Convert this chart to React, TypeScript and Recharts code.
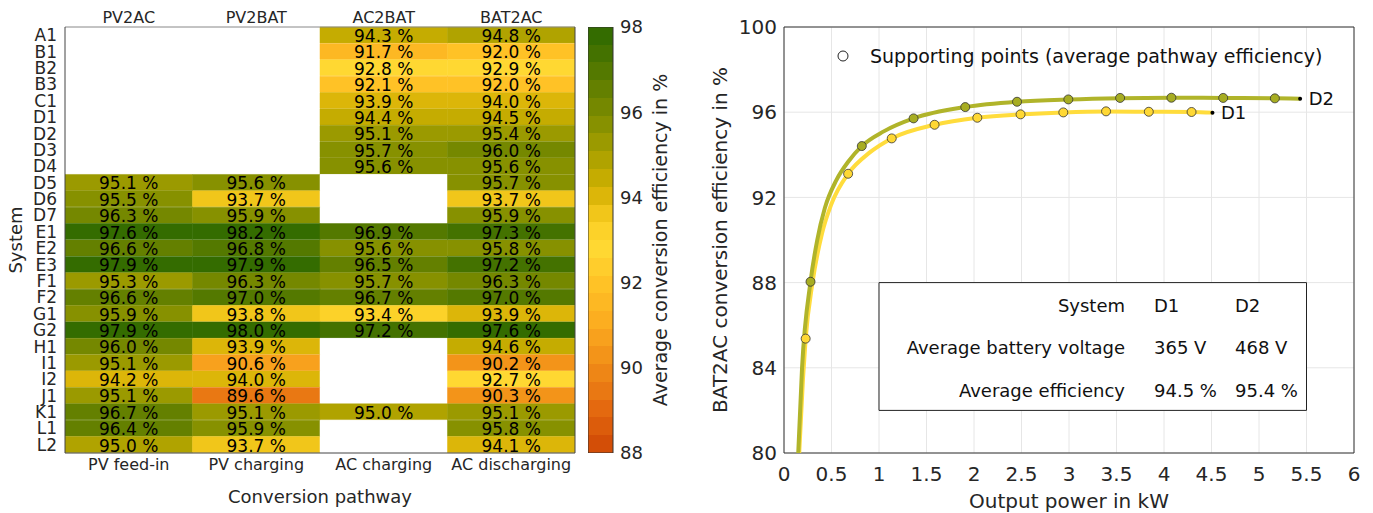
import React from "react"
import {
  BarChart,
  Bar,
  Cell,
  LabelList,
  XAxis,
  YAxis,
  ComposedChart,
  Line,
  Scatter,
  CartesianGrid,
  ReferenceArea,
  Legend,
  Label,
} from "recharts"

const FONT = "'DejaVu Sans', Verdana, sans-serif"
const INK = "#262626"

// ---- heatmap data ----
const systems = ["A1", "B1", "B2", "B3", "C1", "D1", "D2", "D3", "D4", "D5", "D6", "D7", "E1", "E2", "E3", "F1", "F2", "G1", "G2", "H1", "I1", "I2", "J1", "K1", "L1", "L2"]
const pathCodes = ["PV2AC", "PV2BAT", "AC2BAT", "BAT2AC"]
const pathNames = ["PV feed-in", "PV charging", "AC charging", "AC discharging"]
const pv2ac = [null, null, null, null, null, null, null, null, null, 95.1, 95.5, 96.3, 97.6, 96.6, 97.9, 95.3, 96.6, 95.9, 97.9, 96.0, 95.1, 94.2, 95.1, 96.7, 96.4, 95.0]
const pv2bat = [null, null, null, null, null, null, null, null, null, 95.6, 93.7, 95.9, 98.2, 96.8, 97.9, 96.3, 97.0, 93.8, 98.0, 93.9, 90.6, 94.0, 89.6, 95.1, 95.9, 93.7]
const ac2bat = [94.3, 91.7, 92.8, 92.1, 93.9, 94.4, 95.1, 95.7, 95.6, null, null, null, 96.9, 95.6, 96.5, 95.7, 96.7, 93.4, 97.2, null, null, null, null, 95.0, null, null]
const bat2ac = [94.8, 92.0, 92.9, 92.0, 94.0, 94.5, 95.4, 96.0, 95.6, 95.7, 93.7, 95.9, 97.3, 95.8, 97.2, 96.3, 97.0, 93.9, 97.6, 94.6, 90.2, 92.7, 90.3, 95.1, 95.8, 94.1]

const colorRange = [88, 98]
const colorTicks = [88, 90, 92, 94, 96, 98]
const colorLevels = 24

// ---- BAT2AC efficiency curves (output power kW, efficiency %) ----
const d1Curve = [
  { x: 0.16, y: 80 }, { x: 0.2, y: 83.5 }, { x: 0.228, y: 85.37 }, { x: 0.3, y: 88.0 },
  { x: 0.4, y: 90.3 }, { x: 0.5, y: 91.7 }, { x: 0.675, y: 93.11 }, { x: 0.9, y: 94.1 },
  { x: 1.134, y: 94.77 }, { x: 1.585, y: 95.41 }, { x: 2.035, y: 95.74 }, { x: 2.49, y: 95.9 },
  { x: 2.94, y: 95.99 }, { x: 3.39, y: 96.03 }, { x: 3.84, y: 96.02 }, { x: 4.29, y: 96.01 },
  { x: 4.51, y: 95.98 },
]
const d2Curve = [
  { x: 0.15, y: 80 }, { x: 0.19, y: 84 }, { x: 0.279, y: 88.04 }, { x: 0.35, y: 90.0 },
  { x: 0.43, y: 91.5 }, { x: 0.55, y: 92.8 }, { x: 0.68, y: 93.7 }, { x: 0.819, y: 94.41 },
  { x: 1.05, y: 95.1 }, { x: 1.364, y: 95.71 }, { x: 1.908, y: 96.24 }, { x: 2.453, y: 96.49 },
  { x: 2.993, y: 96.6 }, { x: 3.538, y: 96.66 }, { x: 4.078, y: 96.68 }, { x: 4.623, y: 96.67 },
  { x: 5.167, y: 96.65 }, { x: 5.433, y: 96.63 },
]
const d1Points = [
  { x: 0.228, y: 85.37 }, { x: 0.675, y: 93.11 }, { x: 1.134, y: 94.77 }, { x: 1.585, y: 95.41 },
  { x: 2.035, y: 95.74 }, { x: 2.49, y: 95.9 }, { x: 2.94, y: 95.99 }, { x: 3.39, y: 96.04 },
  { x: 3.84, y: 96.02 }, { x: 4.29, y: 96.01 },
]
const d2Points = [
  { x: 0.279, y: 88.04 }, { x: 0.819, y: 94.41 }, { x: 1.364, y: 95.71 }, { x: 1.908, y: 96.24 },
  { x: 2.453, y: 96.49 }, { x: 2.993, y: 96.6 }, { x: 3.538, y: 96.67 }, { x: 4.078, y: 96.68 },
  { x: 4.623, y: 96.67 }, { x: 5.167, y: 96.65 },
]
const endPoints = [
  { x: 4.51, y: 95.98, name: "D1" },
  { x: 5.433, y: 96.63, name: "D2" },
]
const xTicks = [0, 0.5, 1, 1.5, 2, 2.5, 3, 3.5, 4, 4.5, 5, 5.5, 6]
const yTicks = [80, 84, 88, 92, 96, 100]
const tableRows = [
  ["System", "D1", "D2"],
  ["Average battery voltage", "365 V", "468 V"],
  ["Average efficiency", "94.5 %", "95.4 %"],
]

// colormap (orange -> yellow -> olive -> green)
const colorStops: [number, string][] = [
  [88, "#cf4705"], [89, "#e3680f"], [90, "#f08a17"], [91, "#fbab1f"], [92, "#ffc326"],
  [92.8, "#ffd832"], [93.4, "#fbcf25"], [93.9, "#e4ba0c"], [94.5, "#c3ab00"],
  [95.2, "#9f9c00"], [96, "#7a8a00"], [97, "#527800"], [98, "#2c6900"],
]

function hexToRgb(h: string) {
  return [parseInt(h.slice(1, 3), 16), parseInt(h.slice(3, 5), 16), parseInt(h.slice(5, 7), 16)]
}

function mapColor(v: number) {
  for (let i = 0; i < colorStops.length - 1; i++) {
    const [a, ca] = colorStops[i]
    const [b, cb] = colorStops[i + 1]
    if (v <= b || i === colorStops.length - 2) {
      const t = Math.max(0, Math.min(1, (v - a) / (b - a)))
      const A = hexToRgb(ca)
      const B = hexToRgb(cb)
      const c = A.map((x, k) => Math.round(x + (B[k] - x) * t))
      return `rgb(${c[0]},${c[1]},${c[2]})`
    }
  }
  return colorStops[0][1]
}

const step = (colorRange[1] - colorRange[0]) / colorLevels
function levelColor(v: number | null) {
  if (v == null) return "#ffffff"
  const idx = Math.max(0, Math.min(colorLevels - 1, Math.floor((v - colorRange[0]) / step)))
  return mapColor(colorRange[0] + (idx + 0.5) * step)
}

// quantized colorbar as hard-edged gradient stops (bottom -> top)
const bandStops = Array.from({ length: colorLevels }, (_, i) => ({
  from: i / colorLevels,
  to: (i + 1) / colorLevels,
  color: mapColor(colorRange[0] + (i + 0.5) * step),
}))
const colorbarData = [{ name: "cb", range: colorRange }]

type Row = { sys: string; pv2ac: number | null; pv2bat: number | null; ac2bat: number | null; bat2ac: number | null }
const rows: Row[] = systems.map((s, i) => ({ sys: s, pv2ac: pv2ac[i], pv2bat: pv2bat[i], ac2bat: ac2bat[i], bat2ac: bat2ac[i] }))
const pathKeys: (keyof Row)[] = ["pv2ac", "pv2bat", "ac2bat", "bat2ac"]
// each pathway occupies one unit along the x axis
const spanKeys = pathKeys.map((k) => (r: Row) => (r[k] === undefined ? 0 : 1))

const CellText = (props: any) => {
  const { x, y, width, height, value } = props
  if (value == null) return null
  return (
    <text x={x + width / 2} y={y + height / 2 + 1} textAnchor="middle" dominantBaseline="central" fontSize={17} fontFamily={FONT} fill="#000">
      {Number(value).toFixed(1)} %
    </text>
  )
}

const TableText = ({ viewBox }: any) => {
  const { x, y } = viewBox
  const rowY = [23, 65, 108]
  return (
    <g fontFamily={FONT} fontSize={18} fill="#111">
      {tableRows.map((r, i) => (
        <g key={i}>
          <text x={x + 246} y={y + rowY[i]} textAnchor="end" dominantBaseline="central">{r[0]}</text>
          <text x={x + 275} y={y + rowY[i]} dominantBaseline="central">{r[1]}</text>
          <text x={x + 356} y={y + rowY[i]} dominantBaseline="central">{r[2]}</text>
        </g>
      ))}
    </g>
  )
}

const LegendBox = () => (
  <div style={{ display: "flex", alignItems: "center", fontFamily: FONT, fontSize: 19, color: "#111", lineHeight: "22px" }}>
    <svg width={12} height={12}>
      <circle cx={6} cy={6} r={5} fill="#fff" stroke="#222" strokeWidth={1} />
    </svg>
    <span style={{ marginLeft: 21, whiteSpace: "nowrap" }}>Supporting points (average pathway efficiency)</span>
  </div>
)

const tickStyle = (size: number) => ({ fontSize: size, fill: INK, fontFamily: FONT })

export default function App() {
  return (
    <div style={{ position: "absolute", left: 0, top: 0, width: 1373, height: 513, background: "#fff", fontFamily: FONT }}>
      <div style={{ position: "absolute", left: 0, top: 0 }}>
        <BarChart width={700} height={513} data={rows} layout="vertical" barCategoryGap={0} barGap={0} margin={{ top: 0, right: 124, bottom: 0, left: 0 }}>
          <XAxis xAxisId="top" orientation="top" type="number" domain={[0, 4]} allowDataOverflow ticks={[0.5, 1.5, 2.5, 3.5]}
            tickFormatter={(v: number) => pathCodes[Math.floor(v)]} height={27} tickSize={0} tickMargin={4}
            tickLine={false} axisLine={{ stroke: "#888" }} tick={tickStyle(16)} />
          <XAxis type="number" domain={[0, 4]} allowDataOverflow ticks={[0.5, 1.5, 2.5, 3.5]}
            tickFormatter={(v: number) => pathNames[Math.floor(v)]} height={60} tickSize={0} tickMargin={6}
            tickLine={false} axisLine={{ stroke: "#444" }} tick={tickStyle(16)}>
            <Label value="Conversion pathway" position="center" dy={14} fontSize={18} fill={INK} fontFamily={FONT} />
          </XAxis>
          <YAxis type="category" dataKey="sys" width={65} tickSize={0} tickMargin={8} tickLine={false}
            axisLine={{ stroke: "#444" }} tick={tickStyle(17)} interval={0}>
            <Label value="System" angle={-90} position="center" dx={-17} fontSize={18} fill={INK} fontFamily={FONT} />
          </YAxis>
          <YAxis yAxisId="r" orientation="right" type="category" dataKey="sys" width={1} tick={false} tickLine={false} axisLine={{ stroke: "#444" }} />
          {pathKeys.map((k, j) => (
            <Bar key={k as string} dataKey={spanKeys[j]} stackId="h" isAnimationActive={false}>
              {rows.map((r, i) => (
                <Cell key={i} fill={levelColor(r[k] as number | null)} stroke={levelColor(r[k] as number | null)} strokeWidth={0.5} />
              ))}
              <LabelList dataKey={k as string} content={CellText} />
            </Bar>
          ))}
        </BarChart>
      </div>

      <div style={{ position: "absolute", left: 588, top: 0 }}>
        <BarChart width={100} height={513} data={colorbarData} barCategoryGap={0} margin={{ top: 27, right: 0, bottom: 60, left: 0 }}>
          <defs>
            <linearGradient id="cbGrad" x1="0" y1="1" x2="0" y2="0">
              {bandStops.flatMap((b, i) => [
                <stop key={`a${i}`} offset={b.from} stopColor={b.color} />,
                <stop key={`b${i}`} offset={b.to} stopColor={b.color} />,
              ])}
            </linearGradient>
          </defs>
          <XAxis type="category" dataKey="name" hide />
          <YAxis orientation="right" type="number" domain={colorRange} ticks={colorTicks} width={75} tickSize={0}
            tickMargin={7} tickLine={false} axisLine={false} tick={tickStyle(18)} allowDataOverflow>
            <Label value="Average conversion efficiency in %" angle={-90} position="center" dx={10} fontSize={19} fill={INK} fontFamily={FONT} />
          </YAxis>
          <Bar dataKey="range" fill="url(#cbGrad)" stroke="#333" strokeWidth={1} isAnimationActive={false} />
        </BarChart>
      </div>

      <div style={{ position: "absolute", left: 690, top: 0 }}>
        <ComposedChart width={683} height={513} margin={{ top: 27, right: 19, bottom: 0, left: 0 }}>
          <CartesianGrid stroke="#e6e6e6" />
          <XAxis type="number" dataKey="x" domain={[0, 6]} ticks={xTicks} height={60} tickSize={0} tickMargin={14}
            tickLine={false} axisLine={false} tick={tickStyle(20)} allowDataOverflow>
            <Label value="Output power in kW" position="center" dy={18} fontSize={20} fill={INK} fontFamily={FONT} />
          </XAxis>
          <YAxis type="number" dataKey="y" domain={[80, 100]} ticks={yTicks} width={94} tickSize={0} tickMargin={7}
            tickLine={false} axisLine={false} tick={tickStyle(20)} allowDataOverflow>
            <Label value="BAT2AC conversion efficiency in %" angle={-90} position="center" dx={-17} fontSize={20} fill={INK} fontFamily={FONT} />
          </YAxis>
          <ReferenceArea x1={1} x2={5.5} y1={82} y2={88} fill="#fff" fillOpacity={1} stroke="#222" strokeWidth={1}
            label={(p: any) => <TableText viewBox={p.viewBox} />} />
          <Line data={d1Curve} dataKey="y" type="monotone" stroke="#ffdc3c" strokeWidth={4} dot={false} isAnimationActive={false} />
          <Line data={d2Curve} dataKey="y" type="monotone" stroke="#b0b42a" strokeWidth={4} dot={false} isAnimationActive={false} />
          <Scatter data={d1Points} dataKey="y" isAnimationActive={false}
            shape={(p: any) => <circle cx={p.cx} cy={p.cy} r={4.5} fill="#ffd834" stroke="#333" strokeWidth={0.8} />} />
          <Scatter data={d2Points} dataKey="y" isAnimationActive={false}
            shape={(p: any) => <circle cx={p.cx} cy={p.cy} r={4.5} fill="#a7ad22" stroke="#333" strokeWidth={0.8} />} />
          <Scatter data={endPoints} dataKey="y" isAnimationActive={false}
            shape={(p: any) => <circle cx={p.cx} cy={p.cy} r={2} fill="#000" />}>
            <LabelList dataKey="name" position="right" offset={4} fontSize={18} fill="#111" fontFamily={FONT} />
          </Scatter>
          <ReferenceArea x1={0} x2={6} y1={80} y2={100} fill="none" stroke="#333" strokeWidth={1} />
          <Legend content={LegendBox} layout="horizontal" verticalAlign="middle" align="center"
            wrapperStyle={{ top: 45, left: 147, width: "auto" }} />
        </ComposedChart>
      </div>
    </div>
  )
}
